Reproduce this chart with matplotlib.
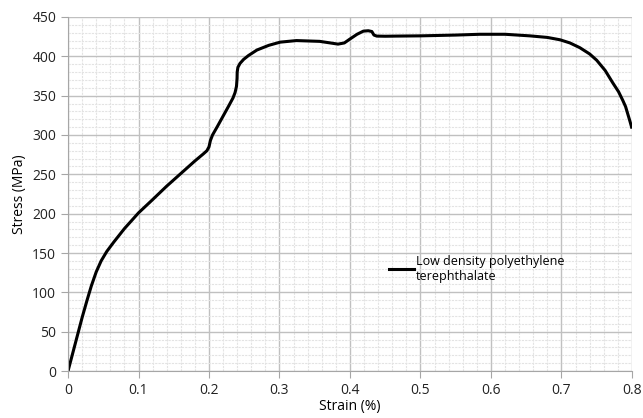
import matplotlib.pyplot as plt
from matplotlib.ticker import MultipleLocator

# Strain (%) and stress (MPa)
strain = [0.0, 0.010, 0.020, 0.027, 0.033, 0.040, 0.047, 0.055, 0.065, 0.080,
          0.100, 0.119, 0.140, 0.160, 0.180, 0.192, 0.197, 0.200, 0.202, 0.205,
          0.212, 0.220, 0.228, 0.234, 0.237, 0.239, 0.2398, 0.240, 0.241, 0.244,
          0.249, 0.256, 0.268, 0.285, 0.301, 0.324, 0.357, 0.372, 0.383, 0.392,
          0.400, 0.410, 0.419, 0.426, 0.431, 0.434, 0.438, 0.450, 0.466, 0.500,
          0.550, 0.584, 0.620, 0.655, 0.680, 0.698, 0.712, 0.726, 0.740, 0.750,
          0.762, 0.773, 0.781, 0.787, 0.791, 0.794, 0.797, 0.7995]
stress = [0, 34, 68, 90, 108, 126, 140, 152, 164, 181,
          201, 217, 235, 251, 267, 276, 280, 285, 293, 300,
          311, 324, 337, 347, 354, 362, 372, 380, 386, 391,
          396, 401, 408, 414, 418, 420, 419, 417, 415.5, 417,
          422, 428, 432, 432.5, 431.5, 427, 425.7, 425.5, 425.7, 426,
          427, 428, 428, 426, 424, 421, 417, 411, 403, 395,
          382, 366, 355, 344, 336, 327, 318, 310]

plt.rcParams['font.family'] = ['Open Sans', 'DejaVu Sans']

fig = plt.figure(figsize=(6.43, 4.18), dpi=100)
ax = fig.add_axes([0.1058, 0.1124, 0.877, 0.847])

ax.plot(strain, stress, color="black", linewidth=2.2,
        solid_joinstyle="round",
        label="Low density polyethylene\nterephthalate")

ax.set_xlim(0, 0.8)
ax.set_ylim(0, 450)
ax.xaxis.set_major_locator(MultipleLocator(0.1))
ax.xaxis.set_minor_locator(MultipleLocator(0.02))
ax.yaxis.set_major_locator(MultipleLocator(50))
ax.yaxis.set_minor_locator(MultipleLocator(10))
ax.set_xticklabels([f"{v:g}" for v in ax.get_xticks()])

ax.grid(True, which="major", color="#c0c0c0", linewidth=1.0)
ax.grid(True, which="minor", color="#e3e3e3", linewidth=0.8, linestyle=(0, (2, 1)))
ax.set_axisbelow(True)

for side in ["top", "right"]:
    ax.spines[side].set_visible(False)
for side in ["left", "bottom"]:
    ax.spines[side].set_color("#a6a6a6")
ax.tick_params(which="major", direction="out", length=5, color="#a6a6a6",
               labelsize=10, labelcolor="#222222")
ax.tick_params(which="minor", length=0)

ax.set_xlabel("Strain (%)", fontsize=10, labelpad=1)
ax.set_ylabel("Stress (MPa)", fontsize=10, labelpad=4)

ax.legend(loc="upper left", bbox_to_anchor=(0.55, 0.36), frameon=False,
          fontsize=9, handlelength=2.0, handletextpad=0.15)

fig.savefig("out.png", dpi=100)
